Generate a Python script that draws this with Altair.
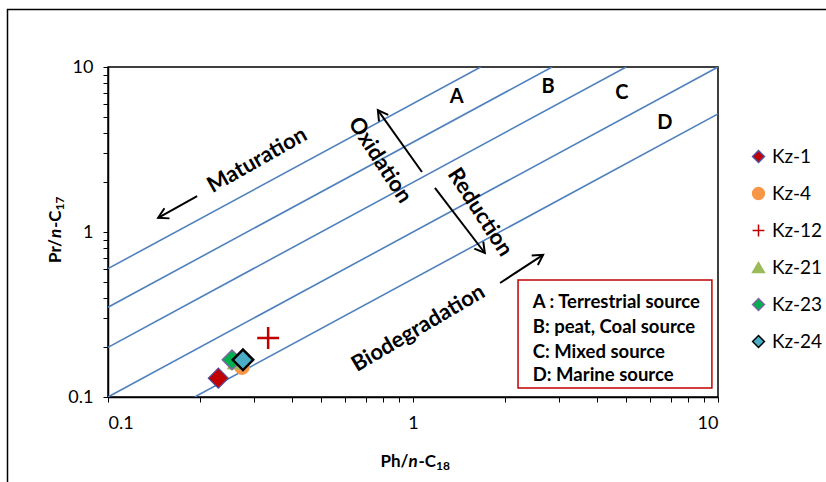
import altair as alt
import pandas as pd

# ---------------- data ----------------
samples = ["Kz-1", "Kz-4", "Kz-12", "Kz-21", "Kz-23", "Kz-24"]
ph_n_c18 = [0.230, 0.275, 0.335, 0.262, 0.255, 0.277]
pr_n_c17 = [0.130, 0.152, 0.228, 0.163, 0.168, 0.168]
fill_colors = ["#C00000", "#F79646", "transparent", "#9BBB59", "#00B050", "#4BACC6"]
stroke_colors = ["#4F4FA0", "#F79646", "#C00000", "#9BBB59", "#8064A2", "#000000"]
marker_shapes = ["diamond", "circle", "M-1,0L1,0M0,-1L0,1", "triangle-up", "diamond", "diamond"]
marker_sizes = [400, 220, 480, 260, 380, 420]
marker_strokes = [1.2, 1.0, 2.5, 1.0, 1.5, 2.5]

# source-discrimination lines  Pr/n-C17 = k * Ph/n-C18
line_ratios = [6.0, 3.5, 2.0, 1.0, 0.52]

# zone letters
zone_labels = ["A", "B", "C", "D"]
zone_x = [1.39, 2.77, 4.84, 6.70]
zone_y = [6.58, 7.57, 6.95, 4.58]

# process annotations
proc_text = ["Maturation", "Oxidation", "Reduction", "Biodegradation"]
proc_x = [0.308, 0.78, 1.66, 1.04]
proc_y = [2.73, 2.73, 1.32, 0.262]
proc_angle = [330.5, 57, 57, 329.5]

# arrows (tail -> head)
arrow_x_tail = [0.196, 1.07, 1.18, 1.93]
arrow_y_tail = [1.65, 2.31, 1.85, 0.491]
arrow_x_head = [0.146, 0.767, 1.72, 2.67]
arrow_y_head = [1.22, 5.48, 0.746, 0.727]
arrow_dir = [153.4, 234.6, 52.4, 327.0]

# key box
key_lines = ["A : Terrestrial source", "B: peat, Coal source", "C: Mixed source", "D: Marine source"]
key_x = [2.47, 2.47, 2.47, 2.47]
key_y = [0.377, 0.266, 0.1875, 0.136]
box_x = [2.21]
box_x2 = [9.55]
box_y = [0.512]
box_y2 = [0.1135]

x_ticks = [0.1, 0.2, 0.3, 0.4, 0.5, 0.6, 0.7, 0.8, 0.9, 1, 2, 3, 4, 5, 6, 7, 8, 9, 10]

# ---------------- tables ----------------
pts = pd.DataFrame({"sample": samples, "x": ph_n_c18, "y": pr_n_c17,
                    "sz": marker_sizes, "sw": marker_strokes})

rows = []
for i, k in enumerate(line_ratios):
    x0 = max(0.1, 0.1 / k)
    x1 = min(10.0, 10.0 / k)
    rows.append({"line": i, "x": x0, "y": k * x0})
    rows.append({"line": i, "x": x1, "y": k * x1})
lines_df = pd.DataFrame(rows)

zones = pd.DataFrame({"t": zone_labels, "x": zone_x, "y": zone_y})
procs = pd.DataFrame({"t": proc_text, "x": proc_x, "y": proc_y, "ang": proc_angle})
arrows = pd.DataFrame({"x": arrow_x_tail, "y": arrow_y_tail, "x2": arrow_x_head,
                       "y2": arrow_y_head, "ang": arrow_dir})
keys = pd.DataFrame({"t": key_lines, "x": key_x, "y": key_y})
box = pd.DataFrame({"x": box_x, "x2": box_x2, "y": box_y, "y2": box_y2})

# ---------------- encodings ----------------
FONT = "Lato"
xscale = alt.Scale(type="log", domain=[0.1, 10])
yscale = alt.Scale(type="log", domain=[0.1, 10])
lab = "datum.value == 0.1 ? '0.1' : datum.value == 1 ? '1' : datum.value == 10 ? '10' : ''"
xaxis = alt.Axis(values=x_ticks, labelExpr=lab, title=None, grid=False, labelPadding=12)
yaxis = alt.Axis(values=x_ticks, labelExpr=lab, title=None, grid=False, labelPadding=10)
X = alt.X("x:Q", scale=xscale, axis=xaxis)
Y = alt.Y("y:Q", scale=yscale, axis=yaxis)

line_layer = alt.Chart(lines_df).mark_line(color="#4F81BD", strokeWidth=1.6, clip=True).encode(
    x=X, y=Y, detail="line:N")

box_layer = alt.Chart(box).mark_rect(fill="white", stroke="#C00000", strokeWidth=1.5).encode(
    x=X, x2="x2:Q", y=Y, y2="y2:Q")

key_layer = alt.Chart(keys).mark_text(font=FONT, fontSize=18.5, fontWeight="bold", align="left",
                                      baseline="middle", color="black").encode(x=X, y=Y, text="t:N")

zone_layer = alt.Chart(zones).mark_text(font=FONT, fontSize=20, fontWeight="bold",
                                        color="black").encode(x=X, y=Y, text="t:N")

proc_layer = alt.Chart(procs).mark_text(font=FONT, fontSize=22, fontWeight="bold",
                                        color="black").encode(
    x=X, y=Y, text="t:N", angle=alt.Angle("ang:Q", scale=None))

shaft_layer = alt.Chart(arrows).mark_rule(color="black", strokeWidth=2).encode(
    x=X, y=Y, x2="x2:Q", y2="y2:Q")

head_layer = alt.Chart(arrows).mark_point(shape="M-1.4,-0.8L0,0L-1.4,0.8", filled=False,
                                          stroke="black", strokeWidth=2, size=200,
                                          opacity=1).encode(
    x=alt.X("x2:Q", scale=xscale, axis=xaxis), y=alt.Y("y2:Q", scale=yscale, axis=yaxis),
    angle=alt.Angle("ang:Q", scale=None))

legend = alt.Legend(title=None, orient="none", legendX=641, legendY=80)
point_layer = alt.Chart(pts).mark_point(filled=True, opacity=1).encode(
    x=X, y=Y,
    fill=alt.Fill("sample:N", sort=samples, scale=alt.Scale(domain=samples, range=fill_colors),
                  legend=legend),
    stroke=alt.Stroke("sample:N", sort=samples, scale=alt.Scale(domain=samples, range=stroke_colors),
                      legend=legend),
    shape=alt.Shape("sample:N", sort=samples, scale=alt.Scale(domain=samples, range=marker_shapes),
                    legend=legend),
    size=alt.Size("sz:Q", scale=None, legend=None),
    strokeWidth=alt.StrokeWidth("sw:Q", scale=None, legend=None),
)

# frame around whole chart
frame = alt.Chart(pd.DataFrame({"a": [0]})).mark_rect(fill="transparent", stroke="black",
                                                       strokeWidth=1.5).encode(
    x=alt.value(-100.5), x2=alt.value(740), y=alt.value(-57.5), y2=alt.value(440))


def piece(s, px, py, size=17, italic=False, angle=0):
    return alt.Chart(pd.DataFrame({"t": [s]})).mark_text(
        font=FONT, fontSize=size, fontWeight="bold", fontStyle="italic" if italic else "normal",
        align="left", baseline="middle", color="black", angle=angle).encode(
        text="t:N", x=alt.value(px), y=alt.value(py))


# x axis title  Ph/n-C18
xt = [piece("Ph/", 272.5, 395), piece("n", 300.5, 395, italic=True),
      piece("-C", 310.5, 395), piece("18", 328, 399, size=12)]
# y axis title  Pr/n-C17
yt = [piece("Pr/", -52, 196, angle=270), piece("n", -52, 171, italic=True, angle=270),
      piece("-C", -52, 161, angle=270), piece("17", -48, 143.5, size=12, angle=270)]

chart = alt.layer(
    frame, line_layer, box_layer, key_layer, zone_layer, proc_layer, shaft_layer, head_layer,
    point_layer, *xt, *yt
).properties(
    width=610, height=330,
    padding={"left": 108, "top": 67, "right": 108, "bottom": 85},
    autosize=alt.AutoSizeParams(type="none"),
    background="white",
).configure_view(
    stroke="black", strokeWidth=1.5
).configure_axis(
    labelFont=FONT, labelFontSize=18, labelColor="black", tickColor="black", tickSize=5,
    domainColor="black", domainWidth=1.5, tickWidth=1,
).configure_legend(
    labelFont=FONT, labelFontSize=19, labelColor="black", symbolSize=140,
    symbolStrokeWidth=1.5, rowPadding=17, labelOffset=4, symbolOpacity=1,
)

chart.save("out.html", embed_options={"renderer": "svg", "actions": False})
